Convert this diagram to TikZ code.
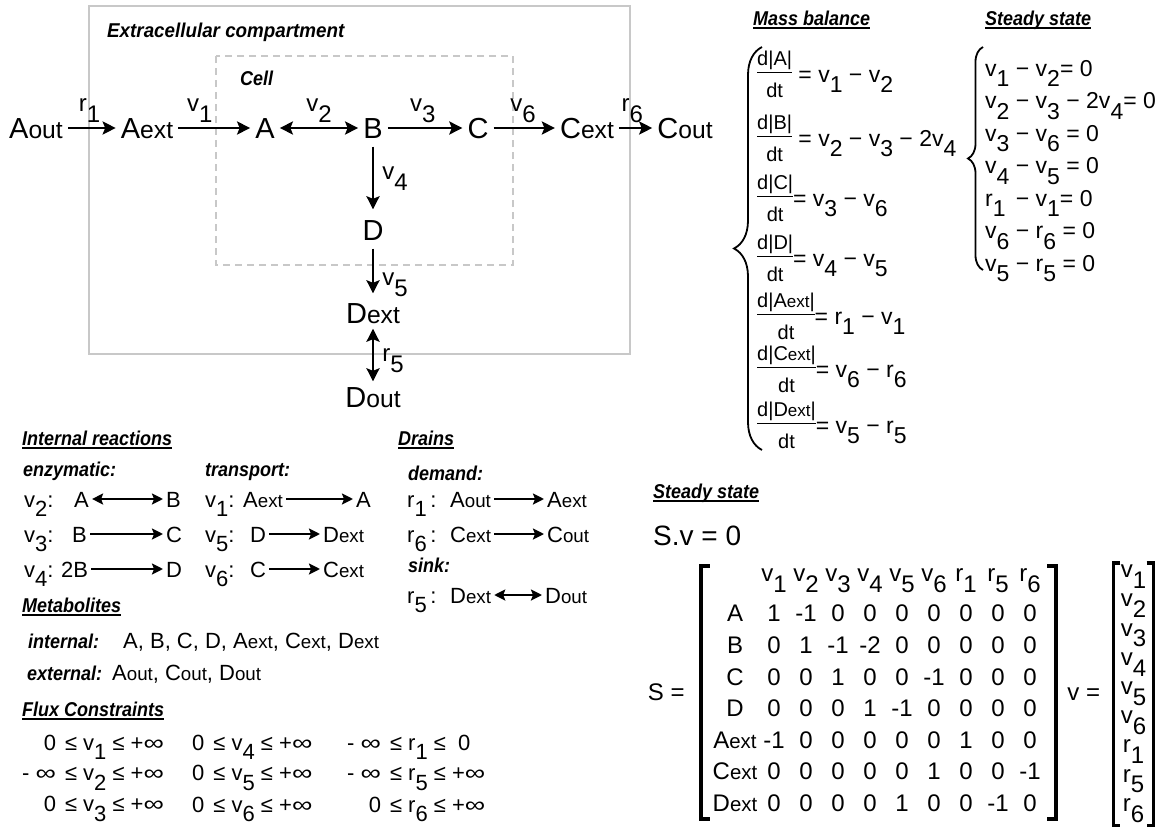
\documentclass[tikz,border=0pt]{standalone}
\usepackage{fontspec}
\usepackage{graphicx}
\setmainfont{Liberation Sans}
\usetikzlibrary{arrows.meta, positioning, matrix, decorations.pathreplacing}

\definecolor{boxgray}{HTML}{C8C8C8}
\setlength{\arrayrulewidth}{1.5pt}

% lowered index, small suffix, narrow bold labels
\newcommand{\ix}[1]{\raisebox{-0.45em}{#1}}
\newcommand{\sm}[1]{\scalebox{0.85}{#1}}
\newcommand{\nar}[1]{\scalebox{0.9}[1]{#1}}
\newcommand{\infy}{\scalebox{1.3}[1]{∞}}
\newcommand{\ulbox}[1]{\setbox0\hbox{#1}\rlap{\rule[-3.5pt]{\wd0}{1.8pt}}\box0}
\newcommand{\hd}[1]{\ulbox{\nar{#1}}}
\newcommand{\rate}[1]{{\fontsize{20}{21}\selectfont\begin{tabular}{@{}c@{}}#1\\\hline\rule{0pt}{24pt}dt\end{tabular}}}

\begin{document}
\begin{tikzpicture}[
    x=1pt, y=-1pt,
    met/.style = {font=\fontsize{29}{32}\selectfont, inner sep=5pt, text height=21pt, text depth=0pt},
    flx/.style = {font=\fontsize{24}{26}\selectfont, inner sep=0pt},
    cat/.style = {font=\fontsize{20}{22}\selectfont\bfseries\itshape, inner sep=0pt, anchor=base west},
    txt/.style = {font=\fontsize{22}{24}\selectfont, inner sep=0pt, anchor=base west},
    spc/.style = {font=\fontsize{22}{24}\selectfont, inner sep=3pt, anchor=base west, text height=16pt, text depth=0pt},
    fc/.style = {font=\fontsize{22}{30}\selectfont, inner sep=0pt, anchor=base west},
    eq/.style = {font=\fontsize{23}{26}\selectfont, inner sep=0pt, anchor=west},
    mat/.style = {font=\fontsize{24}{26}\selectfont, minimum width=32pt, minimum height=31.6pt, inner sep=0pt, anchor=center, text height=17pt, text depth=0pt},
    vec/.style = {font=\fontsize{24}{26}\selectfont, minimum width=28pt, minimum height=29.2pt, inner sep=0pt, anchor=center, text height=8pt, text depth=8pt},
    rxn/.style = {line width=2.6pt, -{Stealth[length=13pt, width=13pt, inset=2.5pt]}},
    rev/.style = {line width=2.6pt, {Stealth[length=13pt, width=13pt, inset=2.5pt]}-{Stealth[length=13pt, width=13pt, inset=2.5pt]}},
    srxn/.style = {line width=2.4pt, -{Stealth[length=11pt, width=11pt, inset=2pt]}},
    srev/.style = {line width=2.4pt, {Stealth[length=11pt, width=11pt, inset=2pt]}-{Stealth[length=11pt, width=11pt, inset=2pt]}},
    brc/.style = {decorate, line width=1.8pt},
    brk/.style = {line width=3.5pt}
]
\useasboundingbox (0,0) rectangle (1171,827);

% Compartments
\draw[boxgray, line width=2.6pt] (89,6) rectangle (630,354);
\draw[boxgray, line width=2.4pt, dash pattern=on 7pt off 5pt] (216,56) rectangle (513,265);
\node[cat] (extra) at (107,37) {\scalebox{0.94}[1]{Extracellular compartment}};
\node[cat] (cell) at (240,85) {\nar{Cell}};

% Network
\node[met] (Aout) at (36,128) {A\sm{out}};
\node[met] (Aext) at (147,128) {A\sm{ext}};
\node[met] (A) at (265,128) {A};
\node[met] (B) at (373,128) {B};
\node[met] (C) at (478,128) {C};
\node[met] (Cext) at (587,128) {C\sm{ext}};
\node[met] (Cout) at (685,128) {C\sm{out}};
\node[met] (D) at (373,230) {D};
\node[met] (Dext) at (373,313) {D\sm{ext}};
\node[met] (Dout) at (373,397) {D\sm{out}};

\draw[rxn] (Aout) -- node[flx, above=4pt, pos=.45] {r\ix{1}} (Aext);
\draw[rxn] (Aext) -- node[flx, above=4pt, pos=.3] {v\ix{1}} (A);
\draw[rev] (A) -- node[flx, above=4pt] {v\ix{2}} (B);
\draw[rxn] (B) -- node[flx, above=4pt, pos=.47] {v\ix{3}} (C);
\draw[rxn] (C) -- node[flx, above=4pt, pos=.48] {v\ix{6}} (Cext);
\draw[rxn] (Cext) -- node[flx, above=4pt, pos=.4] {r\ix{6}} (Cout);
\draw[rxn, shorten <=3pt, shorten >=5pt] (B) -- node[flx, right=8pt] {v\ix{4}} (D);
\draw[rxn, shorten <=3pt, shorten >=4pt] (D) -- node[flx, right=8pt, pos=.75] {v\ix{5}} (Dext);
\draw[rev] (Dext) -- node[flx, right=8pt, pos=.6] {r\ix{5}} (Dout);

% Mass balance
\node[cat] (mbal) at (753,25) {\hd{Mass balance}};
\node[eq] (mb1) at (757,77) {\rate{d|A|} = v\ix{1} − v\ix{2}};
\node[eq] (mb2) at (757,141) {\rate{d|B|} = v\ix{2} − v\ix{3} − 2v\ix{4}};
\node[eq] (mb3) at (757,201) {\rate{d|C|}= v\ix{3} − v\ix{6}};
\node[eq] (mb4) at (757,261) {\rate{d|D|}= v\ix{4} − v\ix{5}};
\node[eq] (mb5) at (757,319) {\rate{d|A\sm{ext}|}= r\ix{1} − v\ix{1}};
\node[eq] (mb6) at (757,372) {\rate{d|C\sm{ext}|}= v\ix{6} − r\ix{6}};
\node[eq] (mb7) at (757,428) {\rate{d|D\sm{ext}|}= v\ix{5} − r\ix{5}};
\draw[brc, decoration={brace, amplitude=28pt}] (762,450) -- (762,47);

% Steady state equations
\node[cat] (sst) at (985,25) {\hd{Steady state}};
\node[eq, anchor=north west, align=left, font=\fontsize{23}{32.5}\selectfont] (ss) at (985,60) {v\ix{1} − v\ix{2}= 0\\ v\ix{2} − v\ix{3} − 2v\ix{4}= 0\\ v\ix{3} − v\ix{6} = 0\\ v\ix{4} − v\ix{5} = 0\\ r\ix{1} \,− v\ix{1}= 0\\ v\ix{6} − r\ix{6} = 0\\ v\ix{5} − r\ix{5} = 0};
\draw[brc, decoration={brace, amplitude=15pt}] (983,270) -- (983,47);

% Internal reactions
\node[cat] (intr) at (22,445) {\hd{Internal reactions}};
\node[cat] (enz) at (23,476) {\nar{enzymatic:}};
\node[cat] (trn) at (205,476) {\nar{transport:}};
\node[txt] (e2) at (24,507) {v\ix{2}:};
\node[spc] (e2a) at (71,507) {A};
\node[spc] (e2b) at (163,507) {B};
\node[txt] (e3) at (24,542) {v\ix{3}:};
\node[spc] (e3a) at (69,542) {B};
\node[spc] (e3b) at (163,542) {C};
\node[txt] (e4) at (24,577) {v\ix{4}:};
\node[spc] (e4a) at (58,577) {2B};
\node[spc] (e4b) at (163,577) {D};
\node[txt] (t1) at (205,507) {v\ix{1}:};
\node[spc] (t1a) at (240,507) {A\sm{ext}};
\node[spc] (t1b) at (353,507) {A};
\node[txt] (t5) at (205,542) {v\ix{5}:};
\node[spc] (t5a) at (247,542) {D};
\node[spc] (t5b) at (320,542) {D\sm{ext}};
\node[txt] (t6) at (205,577) {v\ix{6}:};
\node[spc] (t6a) at (247,577) {C};
\node[spc] (t6b) at (320,577) {C\sm{ext}};
\draw[srev] (e2a) -- (e2b);
\draw[srxn] (e3a) -- (e3b);
\draw[srxn] (e4a) -- (e4b);
\draw[srxn] (t1a) -- (t1b);
\draw[srxn] (t5a) -- (t5b);
\draw[srxn] (t6a) -- (t6b);

% Drains
\node[cat] (drn) at (398,445) {\hd{Drains}};
\node[cat] (dem) at (408,480) {\nar{demand:}};
\node[txt] (d1) at (407,507) {r\ix{1}\,:};
\node[spc] (d1a) at (447,507) {A\sm{out}};
\node[spc] (d1b) at (544,507) {A\sm{ext}};
\node[txt] (d6) at (407,542) {r\ix{6}\,:};
\node[spc] (d6a) at (447,542) {C\sm{ext}};
\node[spc] (d6b) at (544,542) {C\sm{out}};
\node[cat] (snk) at (408,572) {\nar{sink:}};
\node[txt] (d5) at (407,603) {r\ix{5}\,:};
\node[spc] (d5a) at (447,603) {D\sm{ext}};
\node[spc] (d5b) at (542,603) {D\sm{out}};
\draw[srxn] (d1a) -- (d1b);
\draw[srxn] (d6a) -- (d6b);
\draw[srev] (d5a) -- (d5b);

% Metabolites
\node[cat] (metab) at (22,612) {\hd{Metabolites}};
\node[cat] (intl) at (28,648) {\nar{internal:}};
\node[txt] (intlist) at (123,648) {A, B, C, D, A\sm{ext}, C\sm{ext}, D\sm{ext}};
\node[cat] (extl) at (27,680) {\nar{external:}};
\node[txt] (extlist) at (112,680) {A\sm{out}, C\sm{out}, D\sm{out}};

% Flux constraints
\node[cat] (fluxc) at (22,716) {\hd{Flux Constraints}};
\node[fc] (fc1) at (22,750) {\begin{tabular}[t]{@{}r@{\hspace{9pt}}l@{}}0 & ≤ v\ix{1} ≤ +\infy\\ - \infy & ≤ v\ix{2} ≤ +\infy\\ 0 & ≤ v\ix{3} ≤ +\infy\end{tabular}};
\node[fc] (fc2) at (192,750) {\begin{tabular}[t]{@{}r@{\hspace{9pt}}l@{}}0 & ≤ v\ix{4} ≤ +\infy\\ 0 & ≤ v\ix{5} ≤ +\infy\\ 0 & ≤ v\ix{6} ≤ +\infy\end{tabular}};
\node[fc] (fc3) at (347,750) {\begin{tabular}[t]{@{}r@{\hspace{9pt}}l@{}}- \infy & ≤ r\ix{1} ≤ \ 0\\ - \infy & ≤ r\ix{5} ≤ +\infy\\ 0 & ≤ r\ix{6} ≤ +\infy\end{tabular}};

% Stoichiometric matrix
\node[cat] (sst2) at (653,498) {\hd{Steady state}};
\node[txt, font=\fontsize{28}{30}\selectfont] (sv) at (653,545) {S.v = 0};
\matrix (stoich) [matrix of nodes, nodes={mat}, inner sep=0pt, column sep=0pt, row sep=0pt,
    column 1/.style={nodes={minimum width=46pt}},
    row 1/.style={nodes={text height=8pt, text depth=8pt}}] at (879,692.4) {
           & v\ix{1} & v\ix{2} & v\ix{3} & v\ix{4} & v\ix{5} & v\ix{6} & r\ix{1} & r\ix{5} & r\ix{6} \\
    A      & 1  & -1 & 0  & 0  & 0  & 0  & 0 & 0  & 0  \\
    B      & 0  & 1  & -1 & -2 & 0  & 0  & 0 & 0  & 0  \\
    C      & 0  & 0  & 1  & 0  & 0  & -1 & 0 & 0  & 0  \\
    D      & 0  & 0  & 0  & 1  & -1 & 0  & 0 & 0  & 0  \\
    A\sm{ext} & -1 & 0 & 0 & 0 & 0 & 0 & 1 & 0 & 0 \\
    C\sm{ext} & 0 & 0 & 0 & 0 & 0 & 1 & 0 & 0 & -1 \\
    D\sm{ext} & 0 & 0 & 0 & 0 & 1 & 0 & 0 & -1 & 0 \\
};
\node[mat, minimum width=0pt, left=27pt of stoich] (seq) {S =};
\node[mat, minimum width=0pt, right=21pt of stoich] (veq) {v =};
\matrix (flux) [matrix of nodes, nodes={vec}, inner sep=0pt, row sep=0pt, right=19pt of veq, yshift=-2pt] {
    v\ix{1} \\ v\ix{2} \\ v\ix{3} \\ v\ix{4} \\ v\ix{5} \\ v\ix{6} \\ r\ix{1} \\ r\ix{5} \\ r\ix{6} \\
};
\draw[brk] ([xshift=-2pt]stoich.north west) -- ([xshift=-11pt]stoich.north west) -- ([xshift=-11pt]stoich.south west) -- ([xshift=-2pt]stoich.south west);
\draw[brk] ([xshift=1pt]stoich.north east) -- ([xshift=10pt]stoich.north east) -- ([xshift=10pt]stoich.south east) -- ([xshift=1pt]stoich.south east);
\draw[brk] ([xshift=1pt]flux.north west) -- ([xshift=-6pt]flux.north west) -- ([xshift=-6pt]flux.south west) -- ([xshift=1pt]flux.south west);
\draw[brk] ([xshift=-1pt]flux.north east) -- ([xshift=6pt]flux.north east) -- ([xshift=6pt]flux.south east) -- ([xshift=-1pt]flux.south east);

\end{tikzpicture}
\end{document}
